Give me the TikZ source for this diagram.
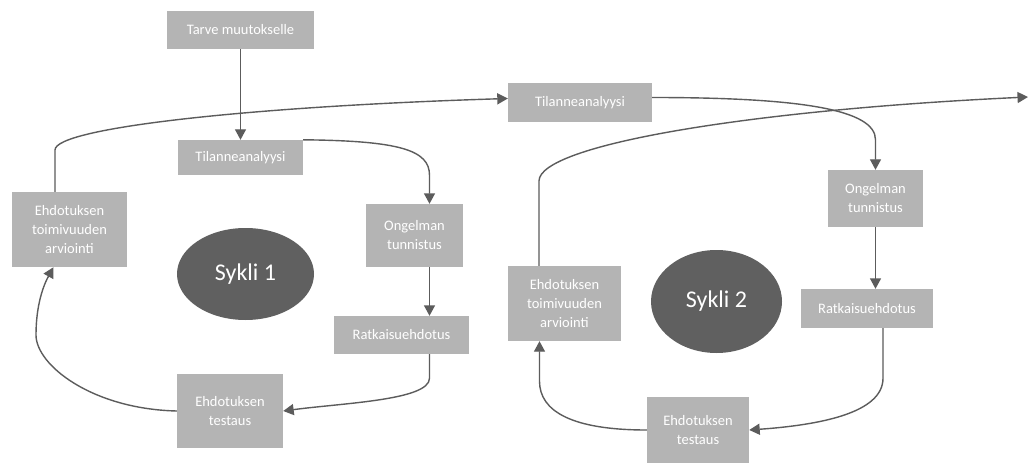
\documentclass[tikz,border=0pt]{standalone}
\usepackage{fontspec}
\setmainfont{Carlito}
\usetikzlibrary{arrows.meta,shapes.geometric,calc}
\definecolor{boxgray}{HTML}{B4B4B4}
\definecolor{ovalgray}{HTML}{606060}
\definecolor{linegray}{HTML}{5C5C5C}

\begin{document}
\begin{tikzpicture}[x=1pt,y=-1pt,
  stage/.style={fill=boxgray, text=white, inner sep=0pt, align=center,
    font=\fontsize{14.5}{19}\selectfont},
  cyclelabel/.style={ellipse, fill=ovalgray, text=white, inner sep=0pt,
    font=\fontsize{24}{28}\selectfont},
  flow/.style={draw=linegray, line width=1.4pt,
    -{Triangle[length=10.5pt,width=11pt]}}]

\fill[white] (0,0) rectangle (1035,465);
\useasboundingbox (0,0) rectangle (1035,465);

% ---------- cycle 1 ----------
\node[stage, minimum width=147pt, minimum height=38pt] (tarve) at (240.5,30) {Tarve muutokselle};
\node[stage, minimum width=125pt, minimum height=35pt] (tila1) at (240.5,157.5) {Tilanneanalyysi};
\node[stage, minimum width=97pt,  minimum height=63pt] (ong1)  at (414.5,235.5) {Ongelman\\tunnistus};
\node[stage, minimum width=135pt, minimum height=38pt] (rat1)  at (401.5,335) {Ratkaisuehdotus};
\node[stage, minimum width=106pt, minimum height=74pt] (test1) at (230,411) {Ehdotuksen\\testaus};
\node[stage, minimum width=115pt, minimum height=75pt] (arv1)  at (69.5,229.5) {Ehdotuksen\\toimivuuden\\arviointi};
\node[cyclelabel, minimum width=137pt, minimum height=92pt] (syk1) at (245.5,274) {Sykli 1};

% ---------- cycle 2 ----------
\node[stage, minimum width=144pt, minimum height=39pt] (tila2) at (580,102.5) {Tilanneanalyysi};
\node[stage, minimum width=95pt,  minimum height=57pt] (ong2)  at (875.5,198.5) {Ongelman\\tunnistus};
\node[stage, minimum width=132pt, minimum height=39pt] (rat2)  at (867,308.5) {Ratkaisuehdotus};
\node[stage, minimum width=102pt, minimum height=66pt] (test2) at (698,430) {Ehdotuksen\\testaus};
\node[stage, minimum width=113pt, minimum height=75pt] (arv2)  at (564.5,303.5) {Ehdotuksen\\toimivuuden\\arviointi};
\node[cyclelabel, minimum width=131pt, minimum height=103pt] (syk2) at (716.5,301.5) {Sykli 2};

% attachment points on the box edges
\coordinate (o1in)  at ([xshift=15pt]ong1.north);
\coordinate (a1in)  at ([xshift=-16pt]arv1.south);
\coordinate (a1out) at ([xshift=-14.5pt]arv1.north);
\coordinate (a1bend) at ([xshift=-17.5pt,yshift=76pt]a1in |- test1.west);
\coordinate (r2out) at ([xshift=16pt]rat2.south);
\coordinate (a2in)  at ([xshift=-25pt]arv2.south);
\coordinate (a2out) at ([xshift=-25.5pt]arv2.north);
\coordinate (exit2) at (1028,97);

% ---------- connectors, cycle 1 ----------
\draw[flow] (tarve) -- (tila1);
\draw[flow] (tila1.north east) .. controls +(97,1) and +(0,-25) .. (o1in |- tila1.south) -- (o1in);
\draw[flow] (o1in |- ong1.south) -- (o1in |- rat1.north);
\draw[flow] (o1in |- rat1.south) -- ([yshift=-24pt]o1in |- rat1.south)
  .. controls +(0,22) and +(60,-8) .. (test1.east);
\draw[flow] (test1.west) .. controls +(-85,-2) and +(0,30) .. (a1bend)
  .. controls +(0,-30) and +(-10,18) .. (a1in);
\draw[flow] (a1out) -- ([yshift=42pt]a1out)
  .. controls +(1,-22) and +(-258,8) .. ([yshift=4pt]tila2.west);

% ---------- connectors, cycle 2 ----------
\draw[flow] ([yshift=5pt]tila2.east) .. controls +(150,0) and +(0,-30) .. ([yshift=30pt]ong2.north) -- (ong2.north);
\draw[flow] (ong2.south) -- (ong2.south |- rat2.north);
\draw[flow] (r2out) -- ([yshift=-50pt]r2out)
  .. controls +(0,35) and +(70,-5) .. (test2.east);
\draw[flow] (test2.west) .. controls +(-75,0) and +(0,30) .. ([yshift=-40pt]a2in) -- (a2in);
\draw[flow] (a2out) -- ([yshift=85pt]a2out)
  .. controls +(1,-36) and +(-278,13) .. (exit2);

\end{tikzpicture}
\end{document}
